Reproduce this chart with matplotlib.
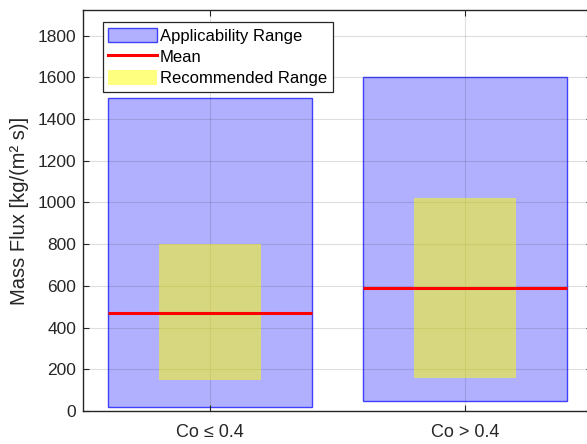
import matplotlib
matplotlib.use("Agg")
import matplotlib.pyplot as plt
from matplotlib.patches import Rectangle
from matplotlib.lines import Line2D

# Data
categories = ["Co \u2264 0.4", "Co > 0.4"]
applicability_min = [20, 50]
applicability_max = [1500, 1600]
recommended_min = [150, 160]
recommended_max = [800, 1020]
mean_flux = [470, 590]

plt.rcParams["font.family"] = ["Liberation Sans", "DejaVu Sans"]

fig = plt.figure(figsize=(5.87, 4.44), dpi=100)
ax = fig.add_axes([83 / 587, 33 / 444, 509 / 587, 400.5 / 444])

blue_face = (0, 0, 1, 0.31)
blue_edge = (0.25, 0.25, 1.0)
yellow_face = (1, 1, 0, 0.5)

wide = 0.8
narrow = 0.4
for i, cat in enumerate(categories):
    x = i + 1
    ax.add_patch(Rectangle((x - wide / 2, applicability_min[i]), wide,
                           applicability_max[i] - applicability_min[i],
                           facecolor=blue_face, edgecolor=blue_edge, lw=1.0, zorder=2))
    ax.add_patch(Rectangle((x - narrow / 2, recommended_min[i]), narrow,
                           recommended_max[i] - recommended_min[i],
                           facecolor=yellow_face, edgecolor="none", zorder=3))
    ax.plot([x - wide / 2, x + wide / 2], [mean_flux[i], mean_flux[i]],
            color="red", lw=2.2, solid_capstyle="butt", zorder=4)

ax.set_xlim(0.5, 2.5)
ax.set_ylim(0, 1920)
ax.set_xticks([1, 2])
ax.set_xticklabels(categories)
ax.set_yticks(range(0, 1801, 200))

ax.grid(True, color=(0.15, 0.15, 0.15), alpha=0.15, lw=0.8, zorder=5)
ax.set_axisbelow(False)

for s in ax.spines.values():
    s.set_color("#262626")
    s.set_linewidth(1.0)
ax.tick_params(direction="in", length=4, width=0.8, color="#262626",
               labelsize=12.5, labelcolor="#262626", top=True, right=True, pad=5)
ax.tick_params(axis="x", pad=9, labelsize=13)

ax.set_ylabel("Mass Flux [kg/(m\u00b2 s)]", fontsize=14.5, color="#262626", labelpad=6)

handles = [
    Rectangle((0, 0), 1, 1, facecolor=blue_face, edgecolor=blue_edge, lw=1.0),
    Line2D([0], [0], color="red", lw=2.2),
    Rectangle((0, 0), 1, 1, facecolor=yellow_face, edgecolor="none"),
]
leg = ax.legend(handles, ["Applicability Range", "Mean", "Recommended Range"],
                loc="upper left", bbox_to_anchor=(0.039, 0.971), fontsize=12,
                frameon=True, fancybox=False, framealpha=1, edgecolor="#262626",
                handlelength=2.9, handleheight=0.95, handletextpad=0.2,
                labelspacing=0.33, borderpad=0.33, borderaxespad=0)
leg.get_frame().set_linewidth(0.9)
leg.set_zorder(10)

fig.savefig("out.png", dpi=100)
